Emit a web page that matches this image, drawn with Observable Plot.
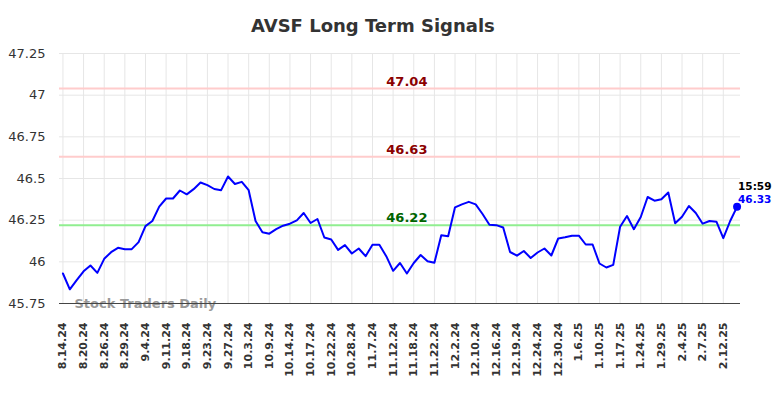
<!DOCTYPE html>
<html>
<head>
<meta charset="utf-8">
<script src="https://cdn.jsdelivr.net/npm/d3@7"></script>
<script src="https://cdn.jsdelivr.net/npm/@observablehq/plot@0.6"></script>
<style>
  html, body { margin: 0; padding: 0; background: #fff; }
  #wrap { width: 784px; height: 398px; overflow: hidden; font-family: "DejaVu Sans", sans-serif; }
  #title { height: 40px; line-height: 52px; text-align: left; padding-left: 251px; font-size: 18px; font-weight: bold; color: #333; white-space: nowrap; }
</style>
</head>
<body>
<div id="wrap">
  <div id="title">AVSF Long Term Signals</div>
  <div id="chart"></div>
</div>
<script>
const tickLabels = ["8.14.24","8.20.24","8.26.24","8.29.24","9.4.24","9.11.24","9.18.24","9.23.24","9.27.24","10.3.24","10.9.24","10.14.24","10.17.24","10.22.24","10.28.24","11.7.24","11.12.24","11.18.24","11.22.24","12.2.24","12.10.24","12.16.24","12.19.24","12.24.24","12.30.24","1.6.25","1.10.25","1.17.25","1.24.25","1.29.25","2.4.25","2.7.25","2.12.25"];
const prices = [
  45.93,45.835,45.89,45.943,45.978,45.934,46.018,46.058,46.084,46.076,
  46.076,46.118,46.214,46.245,46.331,46.38,46.38,46.428,46.405,46.436,
  46.476,46.46,46.437,46.43,46.512,46.467,46.48,46.43,46.245,46.178,
  46.169,46.196,46.217,46.229,46.249,46.293,46.233,46.257,46.146,46.134,
  46.072,46.1,46.05,46.08,46.034,46.102,46.102,46.034,45.946,45.993,
  45.93,45.993,46.041,46.004,45.994,46.16,46.153,46.327,46.345,46.36,
  46.345,46.287,46.222,46.22,46.206,46.059,46.037,46.065,46.023,46.056,
  46.08,46.038,46.14,46.147,46.157,46.157,46.104,46.104,45.99,45.966,
  45.982,46.211,46.275,46.196,46.269,46.389,46.367,46.375,46.416,46.231,
  46.271,46.335,46.293,46.229,46.245,46.241,46.142,46.245,46.33
];
const resistanceLevels = [47.04, 46.63];
const supportLevels = [46.22];
const yTicks = [45.75, 46, 46.25, 46.5, 46.75, 47, 47.25];
const yTickLabels = ["45.75","46","46.25","46.5","46.75","47","47.25"];
const lastTime = "15:59";
const watermark = "Stock Traders Daily";

const data = prices.map((v, i) => ({i, v}));
const n = prices.length;
const xTicks = tickLabels.map((_, k) => k * 3);
const last = data[n - 1];
const labelIdx = 50;

const chart = Plot.plot({
  width: 784,
  height: 358,
  marginLeft: 59,
  marginRight: 44,
  marginTop: 13,
  marginBottom: 95,
  style: {fontFamily: "DejaVu Sans, sans-serif", background: "#fff"},
  x: {type: "linear", domain: [-0.5, n - 0.5]},
  y: {domain: [45.75, 47.25]},
  marks: [
    Plot.gridX(xTicks, {stroke: "#e6e6e6", strokeOpacity: 1, strokeWidth: 1}),
    Plot.gridY(yTicks, {stroke: "#e6e6e6", strokeOpacity: 1, strokeWidth: 1}),
    Plot.ruleY(resistanceLevels, {stroke: "#ffcccc", strokeWidth: 2}),
    Plot.ruleY(supportLevels, {stroke: "#90ee90", strokeWidth: 2}),
    Plot.text([watermark], {frameAnchor: "bottom-left", textAnchor: "start", lineAnchor: "bottom", dx: 15, dy: 4, fill: "#999", fontSize: 13, fontWeight: "bold", fontFamily: "DejaVu Sans, sans-serif"}),
    Plot.ruleY([45.75], {stroke: "#444", strokeWidth: 1}),
    Plot.line(data, {x: "i", y: "v", stroke: "#0000ff", strokeWidth: 2}),
    Plot.dot([last], {x: "i", y: "v", r: 4, fill: "#0000ff"}),
    Plot.text(resistanceLevels, {x: () => labelIdx, y: d => d, text: d => d.toFixed(2), fill: "#8b0000", fontWeight: "bold", fontSize: 13, lineAnchor: "bottom", dy: -3}),
    Plot.text(supportLevels, {x: () => labelIdx, y: d => d, text: d => d.toFixed(2), fill: "#006400", fontWeight: "bold", fontSize: 13, lineAnchor: "bottom", dy: -3}),
    Plot.text([last], {x: "i", y: "v", text: () => lastTime, fill: "#000", fontWeight: "bold", fontSize: 10.5, textAnchor: "start", lineAnchor: "bottom", dy: -17, dx: 1}),
    Plot.text([last], {x: "i", y: "v", text: d => d.v.toFixed(2), fill: "#0000ff", fontWeight: "bold", fontSize: 10.5, textAnchor: "start", lineAnchor: "bottom", dy: -4, dx: 1}),
    Plot.axisX({ticks: xTicks, tickFormat: d => tickLabels[d / 3], tickRotate: -90, tickSize: 0, tickPadding: 19, fontSize: 11, fontWeight: "bold", fill: "#333", label: null}),
    Plot.axisY({ticks: yTicks, tickFormat: (d, k) => yTickLabels[yTicks.indexOf(d)], tickSize: 0, tickPadding: 14, fontSize: 13, fill: "#333", label: null})
  ]
});
document.getElementById("chart").appendChild(chart);
</script>
</body>
</html>
